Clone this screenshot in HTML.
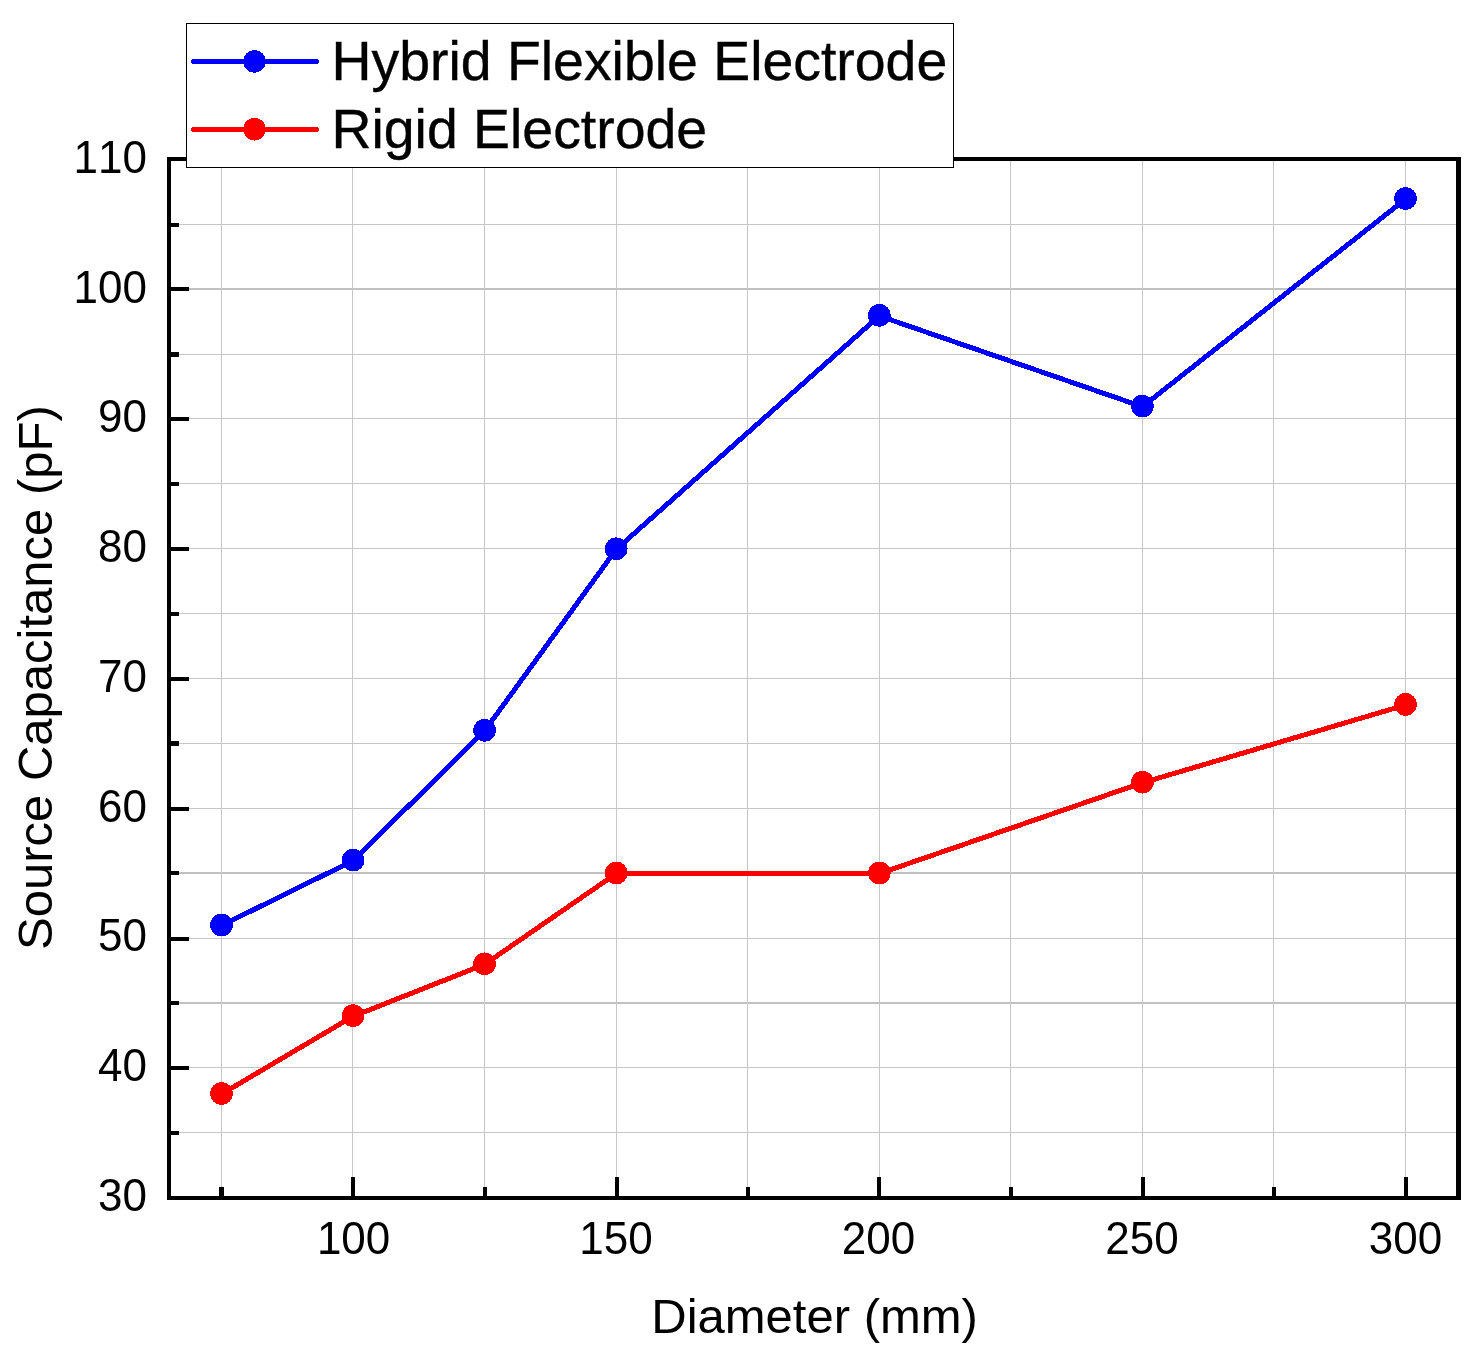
<!DOCTYPE html>
<html lang="en"><head><meta charset="utf-8"><title>Source Capacitance vs Diameter</title>
<style>
html,body{margin:0;padding:0;background:#fff;}
body{width:1484px;height:1349px;overflow:hidden;}
svg{display:block;}
text{font-kerning:none;font-family:"Liberation Sans",Arial,Helvetica,sans-serif;fill:#000;}
.tick{font-size:44px;}
.title{font-size:49px;}
.leg{font-size:55.4px;stroke:#000;stroke-width:0.4px;}
</style></head><body>
<svg width="1484" height="1349" viewBox="0 0 1484 1349">
<rect x="0" y="0" width="1484" height="1349" fill="#ffffff"/>

<g fill="#c6c6c6" shape-rendering="crispEdges">
<rect x="171" y="224" width="1285" height="1"/>
<rect x="171" y="288" width="1285" height="2" fill="#c0c0c0"/>
<rect x="171" y="354" width="1285" height="1"/>
<rect x="171" y="418" width="1285" height="1"/>
<rect x="171" y="483" width="1285" height="1"/>
<rect x="171" y="548" width="1285" height="1"/>
<rect x="171" y="613" width="1285" height="1"/>
<rect x="171" y="678" width="1285" height="1"/>
<rect x="171" y="743" width="1285" height="1"/>
<rect x="171" y="808" width="1285" height="1"/>
<rect x="171" y="872" width="1285" height="2" fill="#c0c0c0"/>
<rect x="171" y="938" width="1285" height="1"/>
<rect x="171" y="1002" width="1285" height="2" fill="#c0c0c0"/>
<rect x="171" y="1067" width="1285" height="1"/>
<rect x="171" y="1132" width="1285" height="1"/>
<rect x="221" y="161" width="1" height="1035"/>
<rect x="352" y="161" width="1" height="1035"/>
<rect x="484" y="161" width="1" height="1035"/>
<rect x="616" y="161" width="1" height="1035"/>
<rect x="747" y="161" width="1" height="1035"/>
<rect x="879" y="161" width="1" height="1035"/>
<rect x="1010" y="161" width="1" height="1035"/>
<rect x="1142" y="161" width="1" height="1035"/>
<rect x="1273" y="161" width="1" height="1035"/>
<rect x="1405" y="161" width="1" height="1035"/>
</g>
<g fill="#000" shape-rendering="crispEdges">
<rect x="167" y="157" width="4" height="1043"/>
<rect x="1456" y="157" width="5" height="1043"/>
<rect x="167" y="157" width="1294" height="4"/>
<rect x="167" y="1196" width="1294" height="4"/>
<rect x="171" y="223" width="8" height="4"/>
<rect x="171" y="287" width="18" height="4"/>
<rect x="171" y="352" width="8" height="5"/>
<rect x="171" y="417" width="18" height="4"/>
<rect x="171" y="482" width="8" height="4"/>
<rect x="171" y="547" width="18" height="4"/>
<rect x="171" y="612" width="8" height="4"/>
<rect x="171" y="677" width="18" height="4"/>
<rect x="171" y="741" width="8" height="5"/>
<rect x="171" y="807" width="18" height="4"/>
<rect x="171" y="871" width="8" height="4"/>
<rect x="171" y="937" width="18" height="4"/>
<rect x="171" y="1001" width="8" height="4"/>
<rect x="171" y="1066" width="18" height="4"/>
<rect x="171" y="1131" width="8" height="4"/>
<rect x="219" y="1187" width="5" height="9"/>
<rect x="351" y="1177" width="4" height="19"/>
<rect x="483" y="1187" width="4" height="9"/>
<rect x="615" y="1177" width="4" height="19"/>
<rect x="746" y="1187" width="4" height="9"/>
<rect x="877" y="1177" width="4" height="19"/>
<rect x="1009" y="1187" width="4" height="9"/>
<rect x="1141" y="1177" width="4" height="19"/>
<rect x="1272" y="1187" width="4" height="9"/>
<rect x="1404" y="1177" width="4" height="19"/>
</g>
<g shape-rendering="crispEdges"><polyline points="221.5,1094.1 353.1,1016.3 484.6,964.4 616.2,873.6 879.3,873.6 1142.4,782.8 1405.5,705.0" fill="none" stroke="#ff0000" stroke-width="5" stroke-linejoin="round" stroke-linecap="round"/>
<circle cx="221.5" cy="1093.5" r="11.35" fill="#ff0000"/>
<circle cx="353.1" cy="1015.7" r="11.35" fill="#ff0000"/>
<circle cx="484.6" cy="963.8" r="11.35" fill="#ff0000"/>
<circle cx="616.2" cy="873.0" r="11.35" fill="#ff0000"/>
<circle cx="879.3" cy="873.0" r="11.35" fill="#ff0000"/>
<circle cx="1142.4" cy="782.2" r="11.35" fill="#ff0000"/>
<circle cx="1405.5" cy="704.4" r="11.35" fill="#ff0000"/>
</g>
<g shape-rendering="crispEdges"><polyline points="221.5,925.5 353.1,860.7 484.6,730.9 616.2,549.4 879.3,315.9 1142.4,406.7 1405.5,199.1" fill="none" stroke="#0000ff" stroke-width="5" stroke-linejoin="round" stroke-linecap="round"/>
<circle cx="221.5" cy="924.9" r="11.35" fill="#0000ff"/>
<circle cx="353.1" cy="860.1" r="11.35" fill="#0000ff"/>
<circle cx="484.6" cy="730.3" r="11.35" fill="#0000ff"/>
<circle cx="616.2" cy="548.8" r="11.35" fill="#0000ff"/>
<circle cx="879.3" cy="315.3" r="11.35" fill="#0000ff"/>
<circle cx="1142.4" cy="406.1" r="11.35" fill="#0000ff"/>
<circle cx="1405.5" cy="198.5" r="11.35" fill="#0000ff"/>
</g>
<rect x="186.5" y="23.5" width="767" height="144" fill="#fff" stroke="#000" stroke-width="1" shape-rendering="crispEdges"/>
<g shape-rendering="crispEdges">
<line x1="193.5" y1="61.5" x2="316.5" y2="61.5" stroke="#0000ff" stroke-width="5" stroke-linecap="round"/>
<circle cx="254.5" cy="61.4" r="11.3" fill="#0000ff"/>
<line x1="193.5" y1="129.5" x2="316.5" y2="129.5" stroke="#ff0000" stroke-width="5" stroke-linecap="round"/>
<circle cx="254.5" cy="129.2" r="11.3" fill="#ff0000"/>
</g>
<text class="leg" x="331.5" y="80">Hybrid Flexible Electrode</text>
<text class="leg" x="331.5" y="148">Rigid Electrode</text>
<text class="tick" text-anchor="end" transform="translate(146.9 1210.6) scale(1 1.04)">30</text>
<text class="tick" text-anchor="end" transform="translate(146.9 1080.9) scale(1 1.04)">40</text>
<text class="tick" text-anchor="end" transform="translate(146.9 951.2) scale(1 1.04)">50</text>
<text class="tick" text-anchor="end" transform="translate(146.9 821.5) scale(1 1.04)">60</text>
<text class="tick" text-anchor="end" transform="translate(146.9 691.8) scale(1 1.04)">70</text>
<text class="tick" text-anchor="end" transform="translate(146.9 562.1) scale(1 1.04)">80</text>
<text class="tick" text-anchor="end" transform="translate(146.9 432.3) scale(1 1.04)">90</text>
<text class="tick" text-anchor="end" transform="translate(146.9 302.6) scale(1 1.04)">100</text>
<text class="tick" text-anchor="end" transform="translate(146.9 172.9) scale(1 1.04)">110</text>
<text class="tick" text-anchor="middle" transform="translate(353.6 1253.8) scale(1 1.04)">100</text>
<text class="tick" text-anchor="middle" transform="translate(615.9 1253.8) scale(1 1.04)">150</text>
<text class="tick" text-anchor="middle" transform="translate(878.5 1253.8) scale(1 1.04)">200</text>
<text class="tick" text-anchor="middle" transform="translate(1141.9 1253.8) scale(1 1.04)">250</text>
<text class="tick" text-anchor="middle" transform="translate(1405.4 1253.8) scale(1 1.04)">300</text>
<text class="title" text-anchor="middle" x="814.6" y="1332.6">Diameter (mm)</text>
<text class="title" text-anchor="middle" transform="translate(52.2 677.6) rotate(-90)">Source Capacitance (pF)</text>
</svg></body></html>
